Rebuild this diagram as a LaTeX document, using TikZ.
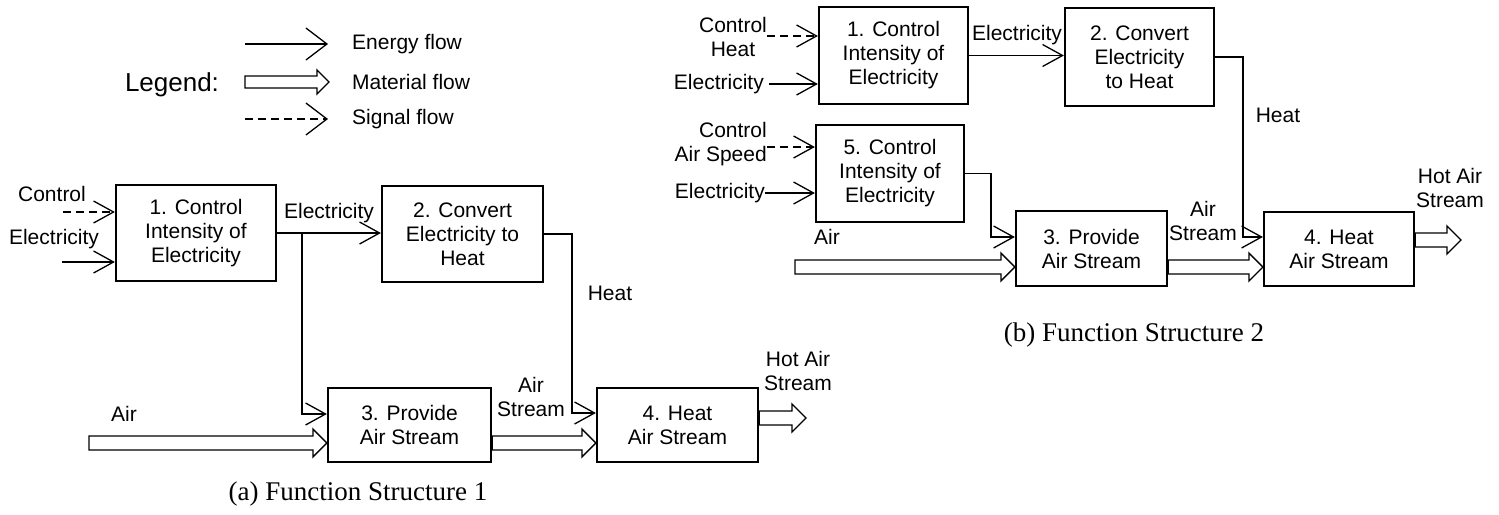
\documentclass[tikz,border=0pt]{standalone}
\usepackage{fontspec}
\setmainfont{Liberation Sans}
\newfontfamily\capfont{Liberation Serif}
\usetikzlibrary{arrows.meta,calc}
\newcommand{\matflow}[3][14]{%
  \draw[mat] let \p1=#2, \p2=#3 in
    (\x1,\y1+#1pt/2) -- (\x2-#1pt,\y1+#1pt/2) -- (\x2-#1pt,\y1+#1pt) -- (\x2,\y1)
    -- (\x2-#1pt,\y1-#1pt) -- (\x2-#1pt,\y1-#1pt/2) -- (\x1,\y1-#1pt/2) -- cycle;}
\begin{document}
\begin{tikzpicture}[x=1pt,y=-1pt,
  font=\fontsize{21}{24}\selectfont,
  fnbox/.style={draw, line width=2.2pt, inner sep=0pt, align=center},
  lbl/.style={inner sep=0pt, align=center},
  flow/.style={line width=1.3pt, -{Straight Barb[length=20pt,width=22pt]}},
  sigflow/.style={flow, dash pattern=on 8pt off 5pt},
  legflow/.style={line width=1.3pt, -{Straight Barb[length=21pt,width=32pt]}},
  mat/.style={draw, line width=1.3pt, fill=white, line join=miter},
  capt/.style={inner sep=0pt, font=\capfont\fontsize{27}{30}\selectfont},
]
\useasboundingbox (0,0) rectangle (1499,514);

% ---------- legend ----------
\node[lbl, font=\fontsize{26}{30}\selectfont] (legend) at (172,85) {Legend:};
\coordinate (le1s) at (245,44); \coordinate (le1e) at (328,44);
\draw[legflow] (le1s) -- (le1e);
\coordinate (le2s) at (245,82); \coordinate (le2e) at (329,82);
\matflow[12]{(le2s)}{(le2e)}
\coordinate (le3s) at (245,119); \coordinate (le3e) at (328,119);
\draw[legflow, dash pattern=on 8pt off 5pt] (le3s) -- (le3e);
\node[lbl, anchor=west] (lt1) at (352,44) {Energy flow};
\node[lbl, anchor=west] (lt2) at (352,82) {Material flow};
\node[lbl, anchor=west] (lt3) at (352,119) {Signal flow};

% ---------- (a) ----------
\node[fnbox, minimum width=160pt, minimum height=96pt] (b1a) at (196,233) {1. Control\\Intensity of\\Electricity};
\node[fnbox, minimum width=161pt, minimum height=96pt] (b2a) at (462.5,234) {2. Convert\\Electricity to\\Heat};
\node[fnbox, minimum width=163pt, minimum height=74pt] (b3a) at (409.5,425) {3. Provide\\Air Stream};
\node[fnbox, minimum width=161pt, minimum height=74pt] (b4a) at (677.5,425) {4. Heat\\Air Stream};

\coordinate (ctlA) at (63,212);
\draw[sigflow] (ctlA) -- (ctlA -| b1a.west);
\coordinate (elA) at (62,262);
\draw[flow] (elA) -- (elA -| b1a.west);
\node[lbl] (tctlA) at (52,194) {Control};
\node[lbl] (telA) at (54,239) {Electricity};

\draw[flow] (b1a.east) -- (b1a.east -| b2a.west);
\node[lbl] (te12A) at (329,213) {Electricity};
\coordinate (jA) at (302,233);
\draw[flow] (jA) |- ($(b3a.west)+(0,-11)$);
\draw[flow] (b2a.east) -- ++(28,0) |- ($(b4a.west)+(0,-12)$);
\node[lbl] (theatA) at (610,293) {Heat};

\coordinate (airA) at (89,443);
\matflow{(airA)}{(b3a.west)}
\node[lbl] (tairA) at (124,414) {Air};
\matflow{(b3a.east |- airA)}{(b4a.west)}
\node[lbl] (tasA) at (531,397) {Air\\Stream};
\coordinate (hotA) at (806,418);
\matflow{(b4a.east |- hotA)}{(hotA)}
\node[lbl] (thotA) at (798,371) {Hot Air\\Stream};
\node[capt] (capA) at (358,494) {(a) Function Structure 1};

% ---------- (b) ----------
\node[fnbox, minimum width=149pt, minimum height=97pt] (b1b) at (893.5,55.5) {1. Control\\Intensity of\\Electricity};
\node[fnbox, minimum width=149pt, minimum height=98pt] (b2b) at (1139.5,57) {2. Convert\\Electricity\\to Heat};
\node[fnbox, minimum width=148pt, minimum height=97pt] (b5b) at (890,173.5) {5. Control\\Intensity of\\Electricity};
\node[fnbox, minimum width=151pt, minimum height=75pt] (b3b) at (1091.5,248.5) {3. Provide\\Air Stream};
\node[fnbox, minimum width=150pt, minimum height=74pt] (b4b) at (1339,249) {4. Heat\\Air Stream};

\coordinate (ctlB1) at (767,36);
\draw[sigflow] (ctlB1) -- (ctlB1 -| b1b.west);
\node[lbl] (tctlB1) at (733,37) {Control\\Heat};
\coordinate (elB1) at (769,84);
\draw[flow] (elB1) -- (elB1 -| b1b.west);
\node[lbl, anchor=east] (telB1) at (764,84) {Electricity};

\draw[flow] (b1b.east) -- (b1b.east -| b2b.west);
\node[lbl] (te12B) at (1017,35) {Electricity};
\draw[flow] (b2b.east) -- ++(28,0) |- ($(b4b.west)+(0,-12)$);
\node[lbl] (theatB) at (1278,115) {Heat};

\coordinate (ctlB5) at (767,147);
\draw[sigflow] (ctlB5) -- (ctlB5 -| b5b.west);
\node[lbl, align=right, anchor=east] (tctlB5) at (767,144.5) {Control\\Air Speed};
\coordinate (elB5) at (765,193);
\draw[flow] (elB5) -- (elB5 -| b5b.west);
\node[lbl, anchor=east] (telB5) at (765,193) {Electricity};
\draw[flow] (b5b.east) -- ++(26,0) |- ($(b3b.west)+(0,-11.5)$);

\coordinate (airB) at (795,267);
\matflow{(airB)}{(b3b.west)}
\node[lbl] (tairB) at (827,237) {Air};
\matflow{(b3b.east |- airB)}{(b4b.west)}
\node[lbl] (tasB) at (1203,221) {Air\\Stream};
\coordinate (hotB) at (1461,240);
\matflow{(b4b.east |- hotB)}{(hotB)}
\node[lbl] (thotB) at (1450,188) {Hot Air\\Stream};
\node[capt] (capB) at (1134,335) {(b) Function Structure 2};
\end{tikzpicture}
\end{document}
